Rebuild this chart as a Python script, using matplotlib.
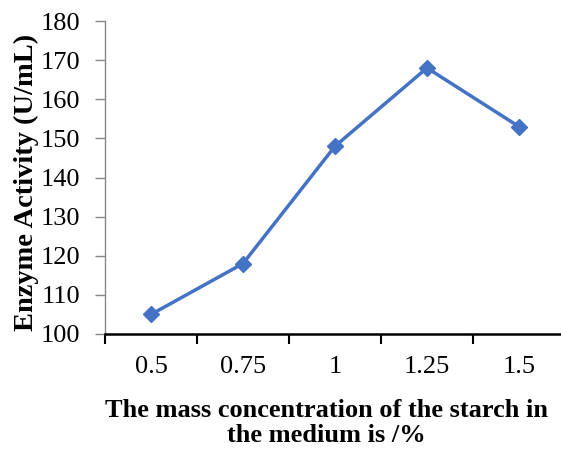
import matplotlib.pyplot as plt
from matplotlib.ticker import FixedLocator, NullFormatter

# Data
concentrations = ["0.5", "0.75", "1", "1.25", "1.5"]
enzyme_activity = [105, 118, 148, 168, 153]

plt.rcParams["font.family"] = ["Liberation Serif", "DejaVu Serif"]

W, H = 561, 459
fig = plt.figure(figsize=(W / 100, H / 100), dpi=100)
ax = fig.add_axes([105 / W, 125 / H, 460 / W, 313 / H])

x = range(len(concentrations))
ax.plot(x, enzyme_activity, color="#4472C4", linewidth=2.5,
        marker="D", markersize=8.5, markeredgecolor="#4472C4")

ax.set_xlim(-0.5, len(concentrations) - 0.5)
ax.set_ylim(100, 180)
ax.set_yticks(range(100, 181, 10))

# Excel style: ticks between the categories, labels at centres
ax.set_xticks(list(x))
ax.set_xticklabels(concentrations)
ax.tick_params(axis="x", which="major", length=0, pad=16, labelsize=19)
ax.xaxis.set_minor_locator(FixedLocator([i - 0.5 for i in range(len(concentrations) + 1)]))
ax.xaxis.set_minor_formatter(NullFormatter())
ax.tick_params(axis="x", which="minor", length=7, width=1.5, color="black")

ax.tick_params(axis="y", length=7, width=1, color="#888888", labelsize=19, pad=11)

for side in ["top", "right"]:
    ax.spines[side].set_visible(False)
ax.spines["left"].set_color("#888888")
ax.spines["left"].set_linewidth(1)
ax.spines["bottom"].set_color("black")
ax.spines["bottom"].set_linewidth(1.8)

ax.set_ylabel("Enzyme Activity (U/mL)", fontsize=20.5, fontweight="bold")
ax.yaxis.set_label_coords((26 - 105) / 460, (334 - 182) / 313)
ax.yaxis.label.set_verticalalignment("center")

ax.set_xlabel("The mass concentration of the starch in\nthe medium is /%",
              fontsize=19, fontweight="bold", linespacing=1.1)
ax.xaxis.set_label_coords((326.5 - 105) / 460, (334 - 399) / 313)
ax.xaxis.label.set_verticalalignment("top")

fig.savefig("out.png", dpi=100)
